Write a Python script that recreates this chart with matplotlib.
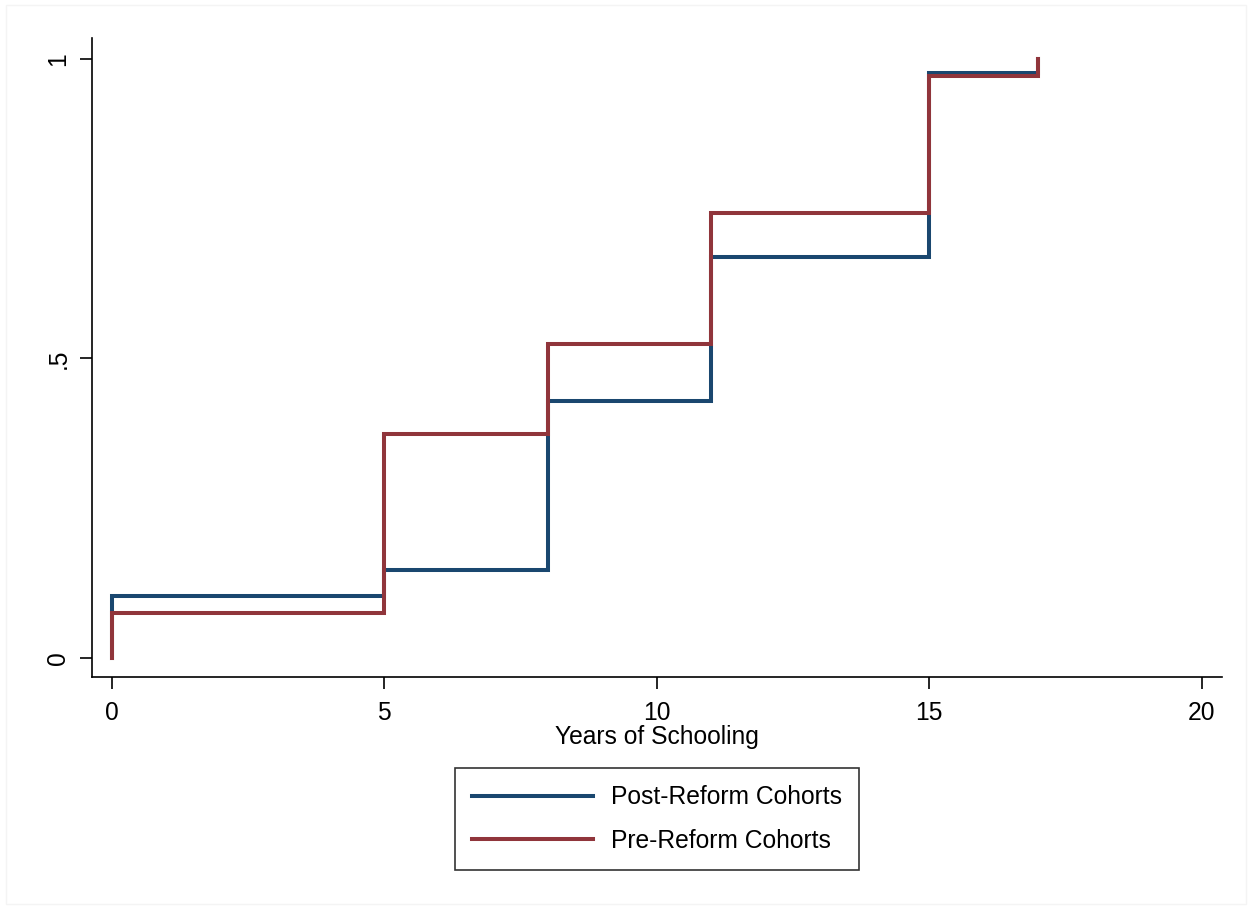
import numpy as np
import matplotlib.pyplot as plt

plt.rcParams['font.family'] = ['Liberation Sans', 'DejaVu Sans']

# cumulative share by years of schooling
years = [0, 0, 5, 8, 11, 15, 17]
post_cdf = [0.0, 0.103, 0.147, 0.429, 0.669, 0.977, 1.0]
pre_cdf = [0.0, 0.075, 0.374, 0.524, 0.743, 0.972, 1.0]

x_ticks = [0, 5, 10, 15, 20]
y_ticks = [0, 0.5, 1]
y_tick_labels = ['0', '.5', '1']

blue = '#1a476f'
red = '#90353b'

fig = plt.figure(figsize=(12.52, 9.09), dpi=100)
ax = fig.add_axes([0.0735, 0.2552, 0.9025, 0.7028])

ax.step(years, post_cdf, where='post', color=blue, lw=2.9,
        label='Post-Reform Cohorts', solid_joinstyle='miter')
ax.step(years, pre_cdf, where='post', color=red, lw=2.9,
        label='Pre-Reform Cohorts', solid_joinstyle='miter')

ax.set_xlim(-0.36, 20.37)
ax.set_ylim(-0.032, 1.035)
ax.set_xticks(x_ticks)
ax.set_yticks(y_ticks)
ax.set_yticklabels(y_tick_labels, rotation=90, va='center')
ax.tick_params(direction='out', length=8.6, width=1.2, labelsize=17.7)
ax.tick_params(axis='x', pad=9)
ax.tick_params(axis='y', pad=7)
for side in ['top', 'right']:
    ax.spines[side].set_visible(False)
for side in ['left', 'bottom']:
    ax.spines[side].set_linewidth(1.2)
ax.set_xlabel('Years of Schooling', fontsize=17.7, labelpad=0)

leg = fig.legend(loc='center', bbox_to_anchor=(0.5248, 0.099), fontsize=17.7,
                 frameon=True, fancybox=False, edgecolor='black',
                 handlelength=4.9, handletextpad=0.75, borderpad=0.7,
                 labelspacing=0.8, borderaxespad=0)
leg.get_frame().set_linewidth(1.2)

# faint outer frame of the graph region
fig.patches.append(plt.Rectangle((0.005, 0.006), 0.99, 0.988, transform=fig.transFigure,
                                 fill=False, edgecolor='#f4f4f4', lw=1))

fig.savefig('out.png', dpi=100, facecolor='white')
